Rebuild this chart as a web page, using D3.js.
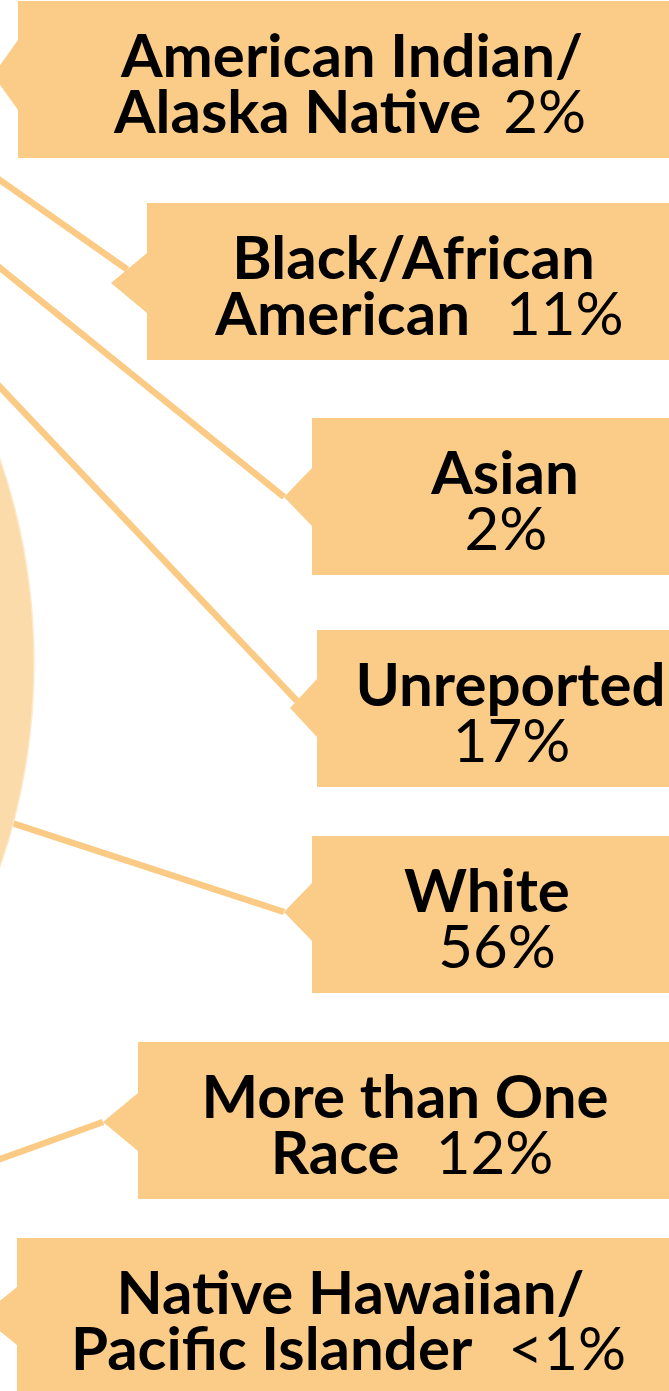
<!DOCTYPE html>
<html>
<head>
<meta charset="utf-8">
<script src="https://cdn.jsdelivr.net/npm/d3@7"></script>
<style>
  html, body { margin: 0; padding: 0; background: #fff; overflow: hidden; }
  svg { display: block; }
  text { white-space: pre; }
</style>
</head>
<body>
<svg id="chart"></svg>
<script>
// race / ethnicity breakdown (values in %)
const categories = [
  "American Indian/Alaska Native",
  "Black/African American",
  "Asian",
  "Unreported",
  "White",
  "More than One Race",
  "Native Hawaiian/Pacific Islander"
];
const shares = [2, 11, 2, 17, 56, 12, 0.5];
const shareLabels = ["2%", "11%", "2%", "17%", "56%", "12%", "<1%"];

// how each label is broken over two lines
const nameLine1 = ["American Indian/", "Black/African", "Asian", "Unreported", "White", "More than One", "Native Hawaiian/"];
const nameLine2 = ["Alaska Native", "American", "", "", "", "Race", "Pacific Islander"];

// callout layout
const boxTop = [1, 203, 418, 630, 836, 1042, 1238];
const boxLeft = [18, 147, 312, 317, 312, 138, 17];
const tipOffset = [74, 80, 79, 78, 76, 80, 78]; // pointer centre below box top
const tipDepth = [25, 36, 28, 27, 28, 35, 36];
const tipHalf = [35, 30, 29, 29, 29, 29, 29];
const leaderAngle = [null, 35.1, 38.9, 46.6, 18.1, -19.8, null]; // degrees, up-left positive
const leaderHit = [0, 0.45, 0, 0.25, 0, 0, 0];
const pctGap = [22, 36, 0, 0, 0, 36, 36];
const shift1 = [1, -2, 7, 10, -11, -6, 0];
const shift2 = [-1, 4, 8, 11, -1, 1, -2];

const width = 669, height = 1391;
const boxRight = 684, boxHeight = 157;
const pieCenter = [-592, 663], pieRadius = 626;

const boxColor = "#fbcc88";
const lineColor = "#fbca84";
const pieColor = "#fbdba9";

const svg = d3.select("#chart")
  .attr("width", width)
  .attr("height", height)
  .attr("viewBox", `0 0 ${width} ${height}`);

const items = categories.map((c, i) => ({
  name: c,
  value: shares[i],
  label: shareLabels[i],
  l1: nameLine1[i],
  l2: nameLine2[i],
  gap: pctGap[i],
  cx1: (boxLeft[i] + boxRight) / 2 + shift1[i],
  cx2: (boxLeft[i] + boxRight) / 2 + shift2[i],
  top: boxTop[i],
  left: boxLeft[i],
  tipY: boxTop[i] + tipOffset[i],
  tipX: boxLeft[i] - tipDepth[i],
  half: tipHalf[i],
  angle: leaderAngle[i],
  hit: leaderHit[i]
}));

// leader lines (drawn first, pie and boxes sit on top)
const leaders = svg.append("g").attr("class", "leaders");
items.filter(d => d.angle !== null).forEach(d => {
  // end point: tip, or partway up the pointer's upper edge
  const ex = d.tipX + d.hit * (d.left - d.tipX);
  const ey = d.tipY - d.hit * d.half;
  const a = d.angle * Math.PI / 180;
  leaders.append("line")
    .attr("x1", ex)
    .attr("y1", ey)
    .attr("x2", ex - 900 * Math.cos(a))
    .attr("y2", ey - 900 * Math.sin(a))
    .style("stroke", lineColor)
    .style("stroke-width", 6.5);
});

// pie, rotated so the White slice faces the callouts
const total = d3.sum(shares);
const whiteIdx = categories.indexOf("White");
const before = d3.sum(shares.slice(0, whiteIdx));
const midFrac = (before + shares[whiteIdx] / 2) / total;
const a0 = Math.PI / 2 - midFrac * 2 * Math.PI;

const pie = d3.pie().sort(null).value(d => d.value)
  .startAngle(a0).endAngle(a0 + 2 * Math.PI);
const arc = d3.arc().innerRadius(0).outerRadius(pieRadius);

svg.append("g")
  .attr("transform", `translate(${pieCenter[0]}, ${pieCenter[1]})`)
  .selectAll("path")
  .data(pie(items))
  .join("path")
  .attr("d", arc)
  .style("fill", pieColor)
  .style("stroke", "#fde8c8")
  .style("stroke-width", 1.5);

// callout boxes
const boxes = svg.append("g").selectAll("g")
  .data(items)
  .join("g");

boxes.append("path")
  .attr("d", d => {
    const p = d3.path();
    p.moveTo(d.left, d.top);
    p.lineTo(boxRight, d.top);
    p.lineTo(boxRight, d.top + boxHeight);
    p.lineTo(d.left, d.top + boxHeight);
    p.lineTo(d.left, d.tipY + d.half);
    p.lineTo(d.tipX, d.tipY);
    p.lineTo(d.left, d.tipY - d.half);
    p.closePath();
    return p.toString();
  })
  .style("fill", boxColor);

const font = "Lato, 'Open Sans', sans-serif";

// first line: bold name
boxes.append("text")
  .attr("x", d => d.cx1)
  .attr("y", d => d.top + 76)
  .attr("text-anchor", "middle")
  .style("font-family", font)
  .style("font-size", "60px")
  .style("font-weight", "700")
  .style("fill", "#000")
  .text(d => d.l1);

// second line: rest of name + percentage
const second = boxes.append("text")
  .attr("x", d => d.cx2)
  .attr("y", d => d.top + 132)
  .attr("text-anchor", "middle")
  .style("font-family", font)
  .style("font-size", "60px")
  .style("fill", "#000");
second.filter(d => d.l2 !== "")
  .append("tspan")
  .style("font-weight", "700")
  .text(d => d.l2);
second.append("tspan")
  .attr("dx", d => d.gap)
  .style("font-weight", "400")
  .text(d => d.label);
</script>
</body>
</html>
